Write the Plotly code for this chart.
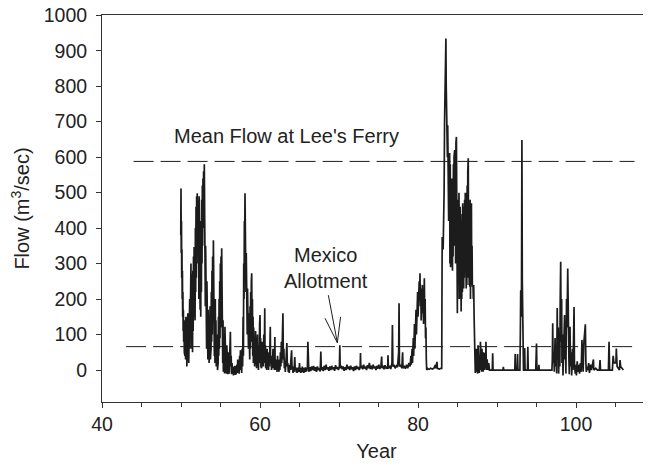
import plotly.graph_objects as go

# ---------------- data ----------------
seg_1950 = [(49.97,380),(50.00,512),(50.03,330),(50.06,420),(50.09,260),(50.12,340),(50.15,200),(50.18,280),(50.21,150),(50.24,220),(50.27,110),(50.30,170),(50.34,80),(50.38,140),(50.42,50),(50.46,120),(50.50,40),(50.54,140),(50.58,30),(50.62,150),(50.66,40),(50.70,120),(50.74,10),(50.78,100),(50.82,20),(50.86,160),(50.90,50),(50.94,130),(50.98,20),(51.02,170),(51.06,40),(51.10,200),(51.14,60),(51.18,250),(51.22,80),(51.26,300),(51.30,100),(51.34,270),(51.38,60),(51.42,200),(51.46,50),(51.50,280),(51.54,110),(51.58,320),(51.62,150),(51.66,347),(51.70,200),(51.74,300),(51.78,140),(51.82,400),(51.86,220),(51.90,460),(51.94,260),(51.98,490),(52.02,300),(52.06,498),(52.10,330),(52.14,470),(52.18,250),(52.22,480),(52.26,200),(52.30,490),(52.34,230),(52.38,420),(52.42,170),(52.46,360),(52.50,150),(52.54,420),(52.58,220),(52.62,480),(52.66,300),(52.70,520),(52.74,350),(52.78,540),(52.82,400),(52.86,560),(52.90,420),(52.95,580),(53.00,300),(53.04,440),(53.08,180),(53.12,350),(53.16,100),(53.20,290),(53.24,60),(53.28,250),(53.32,40),(53.36,200),(53.40,30),(53.44,170),(53.48,50),(53.52,140),(53.56,20),(53.60,120),(53.64,40),(53.68,180),(53.72,30),(53.76,150),(53.80,60),(53.84,220),(53.88,80),(53.92,280),(53.96,100),(54.00,320),(54.04,140),(54.10,366),(54.14,120),(54.18,230),(54.22,40),(54.26,170),(54.30,20),(54.34,200),(54.38,50),(54.42,140),(54.46,10),(54.50,120),(54.54,30),(54.58,100),(54.62,0),(54.66,90),(54.70,20),(54.74,150),(54.78,40),(54.82,200),(54.86,60),(54.90,250),(54.94,90),(54.98,300),(55.02,120),(55.06,320),(55.10,150),(55.15,343),(55.20,80),(55.24,200),(55.28,20),(55.32,140),(55.36,-5),(55.40,100),(55.44,10),(55.48,80),(55.52,-10),(55.56,122),(55.60,20),(55.64,60),(55.68,-8),(55.72,40),(55.76,-10),(55.80,70),(55.84,0),(55.88,30),(55.92,-12),(55.96,50),(56.00,-5)]

seg_1956 = [(56.04,30),(56.10,-10),(56.15,80),(56.20,0),(56.25,108),(56.30,10),(56.35,40),(56.40,-12),(56.46,20),(56.52,-8),(56.58,10),(56.64,-15),(56.70,8),(56.76,-10),(56.82,12),(56.88,-14),(56.94,5),(57.00,-12),(57.06,15),(57.12,-8),(57.18,30),(57.24,-5),(57.30,20),(57.36,-10),(57.42,40),(57.48,0),(57.52,56),(57.56,5),(57.62,30),(57.68,-8),(57.74,60),(57.80,10),(57.86,150),(57.90,40),(57.94,300),(57.98,200),(58.02,420),(58.06,350),(58.10,498),(58.14,300),(58.18,400),(58.22,220),(58.26,330),(58.30,150),(58.34,280),(58.38,100),(58.42,230),(58.46,80),(58.50,190),(58.54,60),(58.58,160),(58.62,40),(58.66,120),(58.70,30),(58.74,180),(58.78,60),(58.82,220),(58.86,80),(58.90,250),(58.95,273),(59.00,100)]

seg_1959 = [(59.04,200),(59.08,40),(59.12,150),(59.16,20),(59.20,120),(59.24,30),(59.28,90),(59.32,10),(59.36,70),(59.40,20),(59.44,110),(59.48,15),(59.52,80),(59.56,5),(59.60,60),(59.64,20),(59.68,100),(59.72,10),(59.76,70),(59.80,0),(59.85,40),(59.90,20),(59.95,130),(60.00,155),(60.04,40),(60.08,90),(60.12,10),(60.16,60),(60.20,5),(60.25,80),(60.30,20),(60.36,50),(60.42,10),(60.48,100),(60.54,20),(60.60,174),(60.64,30),(60.68,70),(60.72,5),(60.78,40),(60.84,0),(60.90,60),(60.96,10),(61.02,30),(61.08,0),(61.14,50),(61.20,10),(61.26,80),(61.30,122),(61.34,20),(61.40,40),(61.46,0),(61.52,30),(61.58,5),(61.64,60),(61.70,10),(61.76,20),(61.82,0),(61.88,93),(61.92,10),(61.98,30),(62.04,0),(62.10,20),(62.16,-5),(62.22,40),(62.28,0),(62.34,15),(62.40,-5),(62.46,30),(62.52,0),(62.58,50),(62.64,10),(62.70,80),(62.76,20),(62.82,120),(62.90,160),(62.96,30),(63.02,60),(63.08,5),(63.14,20),(63.20,-5),(63.26,10),(63.32,40),(63.40,76),(63.46,10),(63.52,20),(63.58,-5),(63.64,10),(63.70,-8),(63.76,15),(63.82,0),(63.90,30),(64.00,56),(64.06,0),(64.12,10),(64.18,-8),(64.24,5),(64.30,-5),(64.36,20),(64.40,37),(64.46,0),(64.52,8),(64.58,-6),(64.64,6),(64.70,-8),(64.76,5),(64.82,-5),(64.88,8),(64.94,-6),(65.00,20),(65.06,-5),(65.12,6),(65.18,-8),(65.24,4),(65.30,-6),(65.36,10),(65.42,-5),(65.48,6),(65.54,-8),(65.60,4),(65.66,-6),(65.72,8),(65.78,-5),(65.84,6),(65.90,-4),(66.00,10)]

seg_1966 = [(66.06,80),(66.12,5),(66.18,-5),(66.30,8),(66.42,-3),(66.54,10),(66.66,0),(66.78,12),(66.90,-2),(67.02,8),(67.14,-5),(67.26,10),(67.38,0),(67.50,6),(67.62,-4),(67.70,52),(67.76,0),(67.88,8),(68.00,-3),(68.12,12),(68.24,0),(68.36,15),(68.48,2),(68.60,8),(68.72,-2),(68.84,10),(68.96,0),(69.08,12),(69.20,2),(69.32,8),(69.44,-2),(69.56,14),(69.68,3),(69.80,9),(69.92,0),(70.05,10),(70.10,70),(70.15,5),(70.28,12),(70.40,2),(70.52,10),(70.64,-2),(70.76,8),(70.88,0),(71.00,15),(71.12,3),(71.24,10),(71.36,0),(71.48,12),(71.60,2),(71.72,8),(71.84,-3),(71.96,10),(72.08,0),(72.20,12),(72.32,3),(72.44,9),(72.56,0),(72.68,10),(72.72,48),(72.76,5),(72.88,12),(73.00,2),(73.12,15),(73.24,4),(73.36,10),(73.48,0),(73.60,14),(73.72,5),(73.84,20),(73.96,3),(74.08,12),(74.20,2),(74.32,15),(74.44,5),(74.56,10),(74.68,0),(74.80,12),(74.92,4),(75.04,15),(75.16,3),(75.30,10),(75.40,38),(75.45,5),(75.58,12),(75.70,2),(75.82,14),(75.94,4),(76.06,10),(76.15,3),(76.20,42),(76.25,5),(76.40,12),(76.55,3),(76.70,20),(76.76,127),(76.82,10),(76.95,15),(77.10,5),(77.25,12),(77.40,8),(77.55,50),(77.60,188),(77.65,10),(77.80,15),(77.95,5),(78.05,50),(78.10,5),(78.25,12),(78.40,4),(78.55,15),(78.70,5),(78.85,20),(79.00,10),(79.10,40),(79.15,15),(79.25,60),(79.30,20),(79.40,90),(79.45,40),(79.55,130),(79.60,60),(79.65,155),(79.70,80),(79.75,170),(79.80,100),(79.85,200),(79.90,120),(79.95,220),(80.00,150),(80.05,240),(80.10,170),(80.15,250),(80.20,200),(80.25,273),(80.30,180),(80.35,230),(80.40,140),(80.45,210),(80.50,150),(80.55,240),(80.60,160),(80.65,220),(80.70,130),(80.75,250),(80.80,259),(80.85,150),(80.90,200),(80.95,90),(81.00,120),(81.05,30),(81.10,0),(81.20,5),(81.40,2),(81.60,5),(81.80,3),(82.00,5),(82.20,15),(82.25,5),(82.40,23),(82.45,5),(82.70,3),(82.90,5)]

seg_1983 = [(83.00,5),(83.03,200),(83.06,375),(83.10,300),(83.14,370),(83.18,340),(83.22,380),(83.30,500),(83.36,700),(83.42,800),(83.48,880),(83.53,934),(83.57,800),(83.60,700),(83.64,650),(83.68,720),(83.72,600),(83.76,690),(83.80,500),(83.84,640),(83.88,420),(83.92,600),(83.96,350),(84.00,612),(84.04,300),(84.08,580),(84.12,290),(84.16,560),(84.20,330),(84.24,540),(84.28,300),(84.32,500),(84.36,280),(84.40,540),(84.44,320),(84.48,580),(84.52,350),(84.56,600),(84.60,380),(84.64,620),(84.68,350),(84.72,600),(84.76,300),(84.80,640),(84.86,657),(84.90,250),(84.94,450),(84.98,160),(85.02,420),(85.06,200),(85.10,480),(85.14,250),(85.18,500),(85.22,300),(85.26,470),(85.30,200),(85.34,460),(85.38,180),(85.42,440),(85.46,165),(85.50,420),(85.54,200),(85.58,440),(85.62,220),(85.66,470),(85.70,250),(85.74,450),(85.78,230),(85.82,460),(85.86,260),(85.90,480),(85.94,280),(85.98,500),(86.02,250),(86.06,470),(86.10,230),(86.14,500),(86.18,240),(86.22,520),(86.26,260),(86.30,560),(86.36,597),(86.40,300),(86.44,470),(86.48,240),(86.52,420),(86.56,235),(86.60,480),(86.64,200),(86.68,400),(86.72,250),(86.76,470),(86.80,240),(86.84,350),(86.88,235),(86.92,300),(86.96,240),(87.00,200),(87.05,240),(87.10,150),(87.15,60),(87.20,0),(87.25,-8)]

seg_1987 = [(87.30,20),(87.35,-5),(87.40,60),(87.45,0),(87.50,40),(87.55,-10),(87.60,70),(87.65,5),(87.70,50),(87.75,-8),(87.80,30),(87.85,0),(87.90,80),(87.95,10),(88.00,40),(88.05,-5),(88.10,60),(88.15,0),(88.20,30),(88.25,-5),(88.30,50),(88.40,0),(88.50,48),(88.55,5),(88.60,80),(88.65,0),(88.75,30),(88.85,0),(88.95,20),(89.05,0),(89.40,0),(89.45,47),(89.50,0),(90.75,0),(90.80,9),(90.85,0),(92.25,0),(92.30,45),(92.35,0),(92.55,0),(92.60,45),(92.65,0),(92.90,0),(92.95,100),(93.00,225),(93.05,150),(93.10,230),(93.15,648),(93.20,250),(93.25,190),(93.30,60),(93.35,0),(93.45,0),(93.50,62),(93.55,0),(93.85,0),(93.90,66),(93.95,0),(94.90,0),(95.00,75),(95.05,0),(95.25,0),(95.30,15),(95.35,0),(96.95,0)]

seg_1997 = [(97.00,30),(97.05,132),(97.10,20),(97.20,50),(97.25,-5),(97.35,90),(97.40,10),(97.50,60),(97.55,-10),(97.62,175),(97.68,40),(97.75,120),(97.80,-10),(97.90,80),(97.95,10),(98.00,200),(98.06,305),(98.12,80),(98.18,200),(98.22,20),(98.30,100),(98.35,-15),(98.45,60),(98.55,155),(98.60,30),(98.68,80),(98.72,-10),(98.80,200),(98.86,120),(98.95,286),(99.00,60),(99.10,30),(99.15,-12),(99.24,122),(99.30,10),(99.40,50),(99.45,-15),(99.55,60),(99.62,0),(99.70,130),(99.75,178),(99.80,20),(99.90,-10),(99.95,15),(100.05,-15),(100.15,25),(100.25,-5),(100.35,15),(100.45,-10),(100.55,20),(100.65,-5),(100.75,85),(100.80,10),(100.90,-5),(101.00,80),(101.18,129),(101.25,20),(101.30,-5),(101.40,10),(101.50,0),(101.60,20),(101.70,-8),(101.85,15),(101.95,0),(102.20,30),(102.25,0),(102.50,5),(102.70,0),(102.95,0),(103.04,28),(103.10,0),(104.10,0),(104.18,80),(104.25,0),(104.60,0),(104.70,40),(104.80,20),(105.05,20),(105.10,61),(105.20,10),(105.50,0),(105.57,28),(105.65,10),(105.99,0)]

mean_flow = 588          # Mean Flow at Lee's Ferry
mexico_allotment = 66    # Mexico Allotment
x_ticks = [40, 60, 80, 100]
y_ticks = [0, 100, 200, 300, 400, 500, 600, 700, 800, 900, 1000]

segments = [seg_1950, seg_1956, seg_1959, seg_1966, seg_1983, seg_1987, seg_1997]
years = [p[0] for s in segments for p in s]
flows = [p[1] for s in segments for p in s]

INK = "#1c1c1c"
TXT = "#222222"
FONT = "Liberation Sans, Arial, sans-serif"

fig = go.Figure()
fig.add_trace(go.Scatter(x=years, y=flows, mode="lines",
                         line=dict(color=INK, width=1.7), hoverinfo="skip",
                         showlegend=False))

dash = "20px,7px"
fig.add_shape(type="line", xref="x", yref="y", x0=44.0, x1=107.4,
              y0=mean_flow, y1=mean_flow, line=dict(color=INK, width=1, dash=dash))
fig.add_shape(type="line", xref="x", yref="y", x0=43.05, x1=107.8,
              y0=mexico_allotment, y1=mexico_allotment, line=dict(color=INK, width=1, dash=dash))

# arrow for Mexico Allotment
fig.add_shape(type="path", xref="x", yref="y",
              path="M 68.65,211 L 69.79,77 M 68.23,146 L 69.79,77 L 70.2,150",
              line=dict(color=INK, width=1))

fig.add_annotation(x=63.3, y=659, xref="x", yref="y", text="Mean Flow at Lee's Ferry",
                   showarrow=False, font=dict(family=FONT, size=20, color=TXT))
fig.add_annotation(x=68.3, y=289, xref="x", yref="y", text="Mexico<br>Allotment",
                   showarrow=False, font=dict(family=FONT, size=20, color=TXT), align="center")

# page body adds an 8px margin: size the figure so that the plot area lands where the reference has it
fig.update_layout(
    width=643, height=456,
    margin=dict(l=94, r=0, t=7, b=62),
    plot_bgcolor="white", paper_bgcolor="white",
    font=dict(family=FONT, size=19.5, color=TXT),
    showlegend=False,
)
fig.update_xaxes(range=[40, 109.49], tickvals=x_ticks, ticks="outside", ticklen=5,
                 tickcolor="#333", showline=True, linecolor="#333", linewidth=1,
                 mirror=True, showgrid=False, zeroline=False,
                 tickfont=dict(size=19.5),
                 minor=dict(dtick=5, tick0=40, ticks="outside", ticklen=4, tickcolor="#333"),
                 title=dict(text="Year", standoff=9, font=dict(size=20)), automargin=False)
fig.update_yaxes(range=[-90, 1000.6], tickvals=y_ticks, ticks="outside", ticklen=5,
                 tickcolor="#333", showline=True, linecolor="#333", linewidth=1,
                 showgrid=False, zeroline=False, ticklabelstandoff=5,
                 ticklabeloverflow="allow",
                 tickfont=dict(size=19.5),
                 title=dict(text="Flow (m<sup>3</sup>/sec)", standoff=21, font=dict(size=20)),
                 automargin=False)

fig.write_html("out.html")
